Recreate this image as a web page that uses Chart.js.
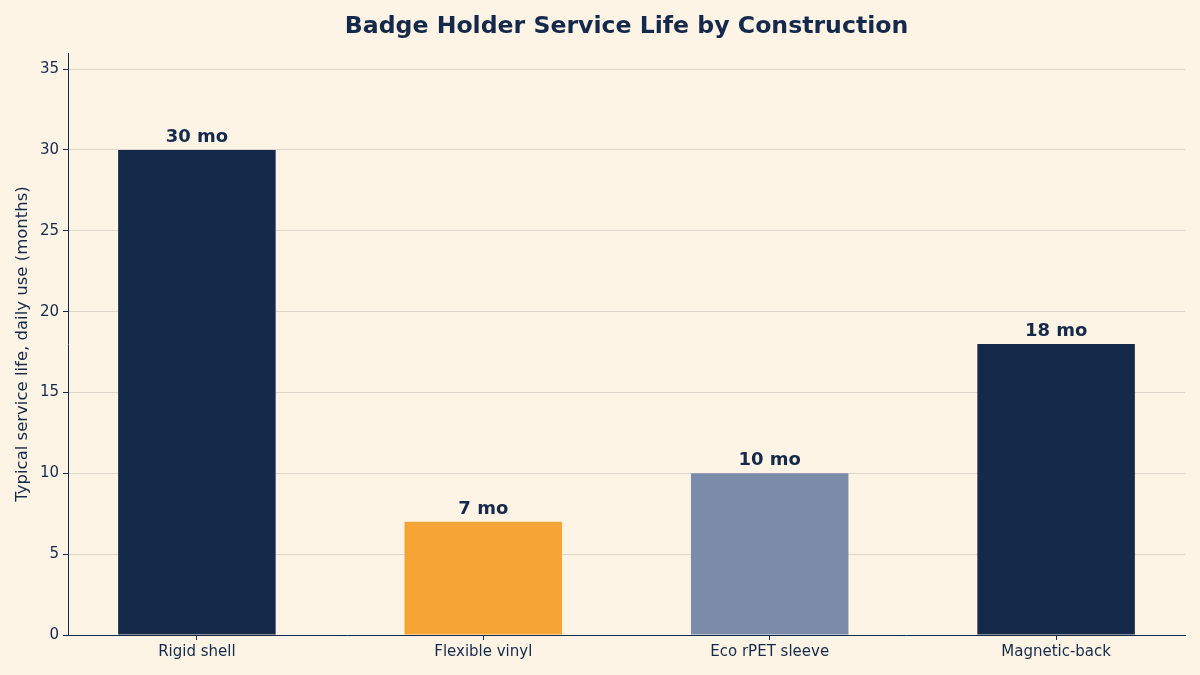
<!DOCTYPE html>
<html>
<head>
<meta charset="utf-8">
<script src="https://cdn.jsdelivr.net/npm/chart.js@4"></script>
<style>
  html, body { margin: 0; padding: 0; background: #fdf4e6; }
  canvas { display: block; }
</style>
</head>
<body>
<canvas id="chart" width="1200" height="675"></canvas>
<script>
const categories = ["Rigid shell", "Flexible vinyl", "Eco rPET sleeve", "Magnetic-back"]
const lifeMonths = [30, 7, 10, 18]
const barColors = ["#15294a", "#f5a535", "#7a8caa", "#15294a"]
const yTicks = [0, 5, 10, 15, 20, 25, 30, 35]

const navy = "#15294a"
const font = "'DejaVu Sans', sans-serif"

// bar value labels + title drawn on the canvas
const labelPlugin = {
    id: "barLabels",
    afterDatasetsDraw(chart) {
        const ctx = chart.ctx
        const meta = chart.getDatasetMeta(0)
        ctx.save()
        ctx.fillStyle = navy
        ctx.font = "bold 18px " + font
        ctx.textAlign = "center"
        ctx.textBaseline = "bottom"
        meta.data.forEach((bar, i) => {
            ctx.fillText(`${lifeMonths[i]} mo`, bar.x, bar.y - 4)
        })
        const area = chart.chartArea
        ctx.font = "bold 23.6px " + font
        ctx.textBaseline = "middle"
        ctx.fillText("Badge Holder Service Life by Construction", (area.left + area.right) / 2, 27)
        ctx.restore()
    },
}

new Chart(document.getElementById("chart"), {
    type: "bar",
    data: {
        datasets: [
            {
                data: lifeMonths.map((v, i) => ({ x: i, y: v })),
                backgroundColor: barColors,
                borderWidth: 0,
                inflateAmount: 0,
                barPercentage: 0.55,
                categoryPercentage: 1,
            },
        ],
    },
    plugins: [labelPlugin],
    options: {
        responsive: false,
        animation: false,
        layout: { padding: { top: 53, right: 15, left: 0, bottom: 0 } },
        plugins: {
            legend: { display: false },
            tooltip: { enabled: false },
        },
        scales: {
            x: {
                type: "linear",
                min: -0.45,
                max: 3.45,
                offset: false,
                afterBuildTicks: (scale) => {
                    scale.ticks = categories.map((c, i) => ({ value: i }))
                },
                afterFit: (scale) => {
                    scale.height = 40
                },
                ticks: {
                    callback: (value) => categories[value],
                    color: navy,
                    font: { family: font, size: 15 },
                    padding: 3,
                    maxRotation: 0,
                },
                grid: {
                    offset: false,
                    drawOnChartArea: false,
                    tickColor: navy,
                    tickLength: 5,
                },
                border: { color: navy, width: 1 },
            },
            y: {
                min: 0,
                max: 36,
                afterBuildTicks: (scale) => {
                    scale.ticks = yTicks.map((v) => ({ value: v }))
                },
                afterFit: (scale) => {
                    scale.width = 68
                },
                ticks: {
                    color: navy,
                    font: { family: font, size: 15 },
                    padding: 4,
                },
                grid: {
                    color: "#ddd6cc",
                    tickColor: navy,
                    tickLength: 5,
                },
                border: { color: navy, width: 1 },
                title: {
                    display: true,
                    text: "Typical service life, daily use (months)",
                    color: navy,
                    font: { family: font, size: 16.5 },
                    padding: { top: 13, bottom: 4 },
                },
            },
        },
    },
})
</script>
</body>
</html>
